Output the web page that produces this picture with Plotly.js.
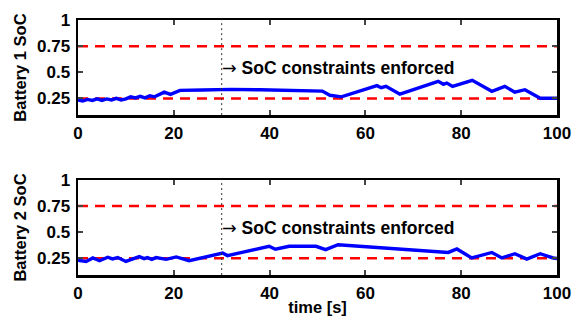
<!DOCTYPE html>
<html><head><meta charset="utf-8">
<script src="https://cdn.plot.ly/plotly-3.0.1.min.js"></script>
<style>html,body{margin:0;padding:0;background:#fff}#chart{width:579px;height:320px}</style>
</head><body><div id="chart"></div>
<script>
// Battery 1 SoC
const t1 = [0,1,2,3,4,5,6,7,8,9,10,11,12,13,14,15,16,17,18,19.3,21.3,26,32,38,46,51,52.6,55,62.4,63.3,64.3,67.2,75.2,76.3,77,78.2,82.3,86.4,89.1,91.2,93.3,96.5,100];
const soc1 = [0.235,0.225,0.24,0.23,0.245,0.23,0.245,0.235,0.25,0.235,0.245,0.265,0.255,0.27,0.255,0.275,0.265,0.29,0.31,0.288,0.327,0.33,0.336,0.332,0.322,0.32,0.28,0.265,0.372,0.352,0.365,0.29,0.413,0.385,0.397,0.365,0.423,0.318,0.365,0.31,0.333,0.252,0.252];
// Battery 2 SoC
const t2 = [0,1.7,3.1,4.5,6.2,7.2,8.3,10,12.8,13.8,14.5,15.4,16.3,18.4,20.5,22.2,23.2,30.2,31.2,39.9,41.2,44.1,49.7,51.7,54.3,77.3,79.1,82.2,86.4,88.5,91.2,93.7,96.5,99.2,100];
const soc2 = [0.23,0.22,0.253,0.227,0.26,0.244,0.257,0.22,0.266,0.247,0.257,0.24,0.257,0.24,0.263,0.24,0.227,0.30,0.276,0.365,0.337,0.365,0.365,0.333,0.38,0.306,0.339,0.253,0.306,0.253,0.294,0.243,0.294,0.253,0.248];
const constraintLevels = [0.25, 0.75];
const enforceTime = 30;
const xTicks = [0,20,40,60,80,100];
const yTicks = [0.25,0.5,0.75,1];
const yTickLabels = ['0.25','0.5','0.75','1'];
const yTitles = ['Battery 1 SoC','Battery 2 SoC'];
const xTitle = 'time [s]';
const noteText = "<span style='font-family:DejaVu Sans'>→</span><b> SoC constraints enforced</b>";

const FONT = 'Liberation Sans, Arial, sans-serif';
const traces = [
  {x:t1, y:soc1, xaxis:'x', yaxis:'y', mode:'lines', line:{color:'#0000ff', width:3.4}, hoverinfo:'skip'},
  {x:t2, y:soc2, xaxis:'x2', yaxis:'y2', mode:'lines', line:{color:'#0000ff', width:3.4}, hoverinfo:'skip'}
];
function xax(anchor, title){
  const a = {range:[0,100], tickvals:xTicks, ticktext:xTicks.map(String), ticks:'inside', ticklen:5, tickwidth:2,
    showline:true, linewidth:2.5, linecolor:'#000', mirror:'ticks', showgrid:false, zeroline:false, anchor:anchor,
    tickfont:{family:FONT, size:17, color:'#000', weight:'bold'}, ticklabelstandoff:1};
  if (title) a.title = {text:title, font:{family:FONT, size:16.5, color:'#000', weight:'bold'}, standoff:0};
  return a;
}
function yax(anchor, dom, title){
  return {range:[0.09,1], domain:dom, tickvals:yTicks, ticktext:yTickLabels, ticks:'inside', ticklen:5, tickwidth:2,
    showline:true, linewidth:2.5, linecolor:'#000', mirror:'ticks', showgrid:false, zeroline:false, anchor:anchor,
    tickfont:{family:FONT, size:17, color:'#000', weight:'bold'}, ticklabelstandoff:2,
    title:{text:title, font:{family:FONT, size:16.5, color:'#000', weight:'bold'}, standoff:6}};
}
const shapes = [];
const annotations = [];
[['x','y'],['x2','y2']].forEach(([xr,yr])=>{
  constraintLevels.forEach(v=>{
    shapes.push({type:'line', xref:xr+' domain', yref:yr, x0:0, x1:1, y0:v, y1:v, line:{color:'#ff0000', width:2.5, dash:'10px,7px'}, layer:'below'});
  });
  shapes.push({type:'line', xref:xr, yref:yr+' domain', x0:enforceTime, x1:enforceTime, y0:0, y1:1, line:{color:'#333', width:1, dash:'2px,3px'}});
  annotations.push({xref:xr, yref:yr, x:enforceTime, y:0.54, xanchor:'left', yanchor:'middle', showarrow:false, xshift:-2,
    text:noteText, font:{family:FONT, size:17.5, color:'#000'}});
});
const layout = {
  width:579, height:320, margin:{l:78, r:22, t:20, b:45},
  paper_bgcolor:'#fff', plot_bgcolor:'#fff', showlegend:false,
  xaxis: xax('y', null),
  yaxis: yax('x', [0.627,1], yTitles[0]),
  xaxis2: xax('y2', xTitle),
  yaxis2: yax('x2', [0,0.3725], yTitles[1]),
  shapes, annotations
};
Plotly.newPlot('chart', traces, layout, {staticPlot:true, displayModeBar:false});
</script></body></html>
